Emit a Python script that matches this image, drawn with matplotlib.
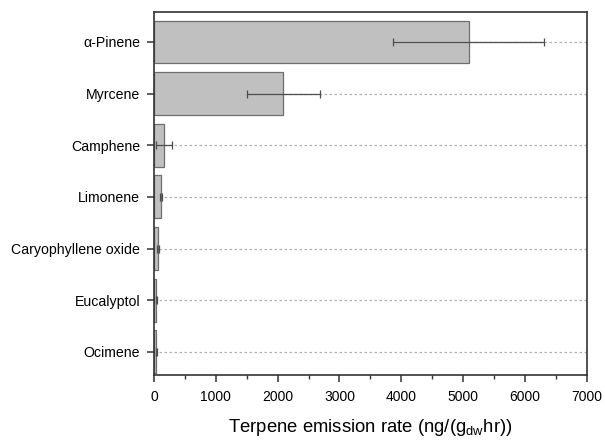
import matplotlib
matplotlib.use("Agg")
import matplotlib.pyplot as plt
from matplotlib.ticker import MultipleLocator
import numpy as np

plt.rcParams['font.family'] = ['Liberation Sans', 'DejaVu Sans']

compounds = ['α-Pinene', 'Myrcene', 'Camphene', 'Limonene',
             'Caryophyllene oxide', 'Eucalyptol', 'Ocimene']
emission = [5090, 2090, 160, 113, 70, 40, 35]
emission_err = [1220, 590, 135, 20, 15, 8, 6]

fig = plt.figure(figsize=(6.05, 4.4), dpi=100)
ax = fig.add_axes([0.2545, 0.1477, 0.7155, 0.825])

ypos = np.arange(len(compounds))
for y in ypos:
    ax.axhline(y, color='#b0b0b0', lw=0.9, ls=(0, (2, 2)), zorder=0)

ax.barh(ypos, emission, height=0.83, color='#c0c0c0', edgecolor='#6e6e6e',
        linewidth=0.9, zorder=2)
ax.errorbar(emission, ypos, xerr=emission_err, fmt='none', ecolor='#4d4d4d',
            elinewidth=0.9, capsize=3, capthick=0.9, zorder=3)

ax.set_xlim(0, 7000)
ax.set_ylim(6.45, -0.58)
ax.set_yticks(ypos)
ax.set_yticklabels(compounds, fontsize=10.2)
ax.xaxis.set_major_locator(MultipleLocator(1000))
ax.xaxis.set_minor_locator(MultipleLocator(500))
ax.tick_params(axis='x', which='major', direction='out', length=5, width=1.1,
               labelsize=10, pad=6, color='#333333')
ax.tick_params(axis='x', which='minor', direction='out', length=3, width=1.0,
               color='#333333')
ax.tick_params(axis='y', direction='out', length=5, width=1.1, pad=5,
               color='#333333')

for s in ax.spines.values():
    s.set_linewidth(1.2)
    s.set_color('#333333')

ax.set_xlabel(r'Terpene emission rate (ng/(g$_{\mathregular{dw}}$hr))', fontsize=13.3,
              labelpad=9)

fig.savefig('out.png', dpi=100)
